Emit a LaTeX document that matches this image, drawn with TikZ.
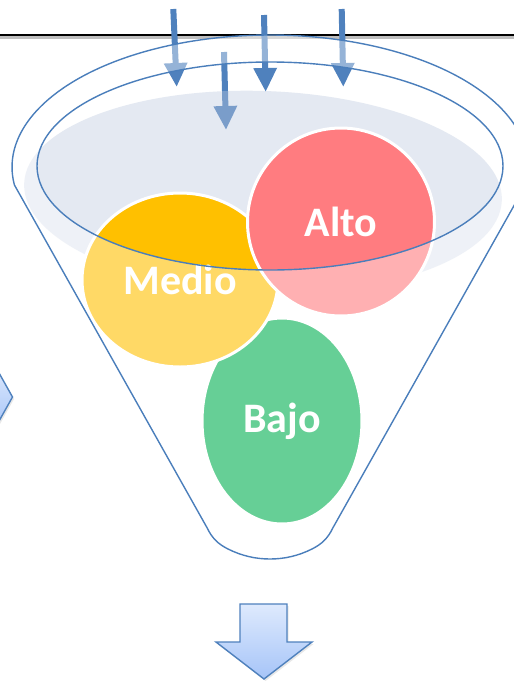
\documentclass[tikz,border=0pt]{standalone}
\usepackage{fontspec}
\newfontfamily\labfont{Carlito}
\usetikzlibrary{arrows.meta,shapes.geometric,shadows}
\definecolor{arrowblue}{HTML}{4F81BD}
\definecolor{funnelblue}{HTML}{4A7EBB}
\definecolor{grayfill}{HTML}{BCC8DF}
\definecolor{altored}{HTML}{FF7C80}
\definecolor{medioyellow}{HTML}{FFC000}
\definecolor{bajogreen}{HTML}{00B050}
\definecolor{blocktop}{HTML}{DEEAFD}
\definecolor{blockbottom}{HTML}{A6C4F8}
\tikzset{
  inarrow/.style={draw=arrowblue, line width=6pt, -{Triangle[length=24pt,width=22pt]}},
  ball/.style={ellipse, draw=white, line width=3pt, inner sep=0pt, text=white,
    font=\labfont\bfseries\fontsize{42}{42}\selectfont},
  outline/.style={draw=funnelblue, line width=1.4pt},
  blockarrow/.style={draw=arrowblue, line width=1.4pt, top color=blocktop, bottom color=blockbottom,
    drop shadow={opacity=0.18, shadow xshift=1.5pt, shadow yshift=-2pt}}
}
\begin{document}
\begin{tikzpicture}[x=1pt,y=1pt]
\fill[white] (0,0) rectangle (514,-681);
\useasboundingbox (0,0) rectangle (514,-681);
% top rule with shadow
\coordinate (ruleL) at (0,-35);
\coordinate (ruleR) at (514,-35);
\draw[black!25, line width=3pt] ([yshift=-2.5pt]ruleL) -- ([yshift=-2.5pt]ruleR);
\draw[black, line width=1.3pt] (ruleL) -- (ruleR);
% input arrows
\coordinate (a1s) at (173.3,-9);  \coordinate (a1e) at (176.7,-87);
\coordinate (a2s) at (264,-15);   \coordinate (a2e) at (265.7,-92);
\coordinate (a3s) at (341.7,-9);  \coordinate (a3e) at (343.3,-87);
\coordinate (a4s) at (224,-52);   \coordinate (a4e) at (226,-130);
\draw[inarrow] (a1s) -- (a1e);
\draw[inarrow] (a2s) -- (a2e);
\draw[inarrow] (a3s) -- (a3e);
\draw[inarrow] (a4s) -- (a4e);
% gray liquid surface
\fill[grayfill, fill opacity=0.4, rotate around={-2:(263,-192)}] (263,-192) ellipse [x radius=239, y radius=101];
% balls
\node[ball, fill=bajogreen, minimum width=160pt, minimum height=206pt] (bajo) at (282,-421) {Bajo};
\node[ball, fill=medioyellow, minimum width=196pt, minimum height=174pt] (medio) at (180,-280) {Medio};
\node[ball, fill=altored, minimum width=187pt, minimum height=188pt] (alto) at (341,-222) {Alto};
% translucent funnel body
\fill[white, fill opacity=0.4, even odd rule]
  (525.6,-185) arc[start angle=-7.84, end angle=187.84, x radius=258, y radius=132]
  -- (207.2,-528) .. controls (212,-538) and (218,-544) .. (228,-549)
  .. controls (242,-556) and (256,-559) .. (270,-559)
  .. controls (284,-559) and (298,-556) .. (312,-549)
  .. controls (322,-544) and (328,-538) .. (332.8,-528) -- cycle
  (270,-166) ellipse [x radius=233, y radius=104];
% funnel outlines
\draw[outline]
  (525.6,-185) arc[start angle=-7.84, end angle=187.84, x radius=258, y radius=132]
  -- (207.2,-528) .. controls (212,-538) and (218,-544) .. (228,-549)
  .. controls (242,-556) and (256,-559) .. (270,-559)
  .. controls (284,-559) and (298,-556) .. (312,-549)
  .. controls (322,-544) and (328,-538) .. (332.8,-528) -- cycle;
\draw[outline] (270,-166) ellipse [x radius=233, y radius=104];
% left partial block arrow
\draw[blockarrow] (-6,-364) -- (12.5,-397) -- (-6,-430);
% output block arrow
\draw[blockarrow] (240,-604) -- (287,-604) -- (287,-642) -- (312,-642) -- (264,-679)
  -- (216,-642) -- (240,-642) -- cycle;
\end{tikzpicture}
\end{document}
